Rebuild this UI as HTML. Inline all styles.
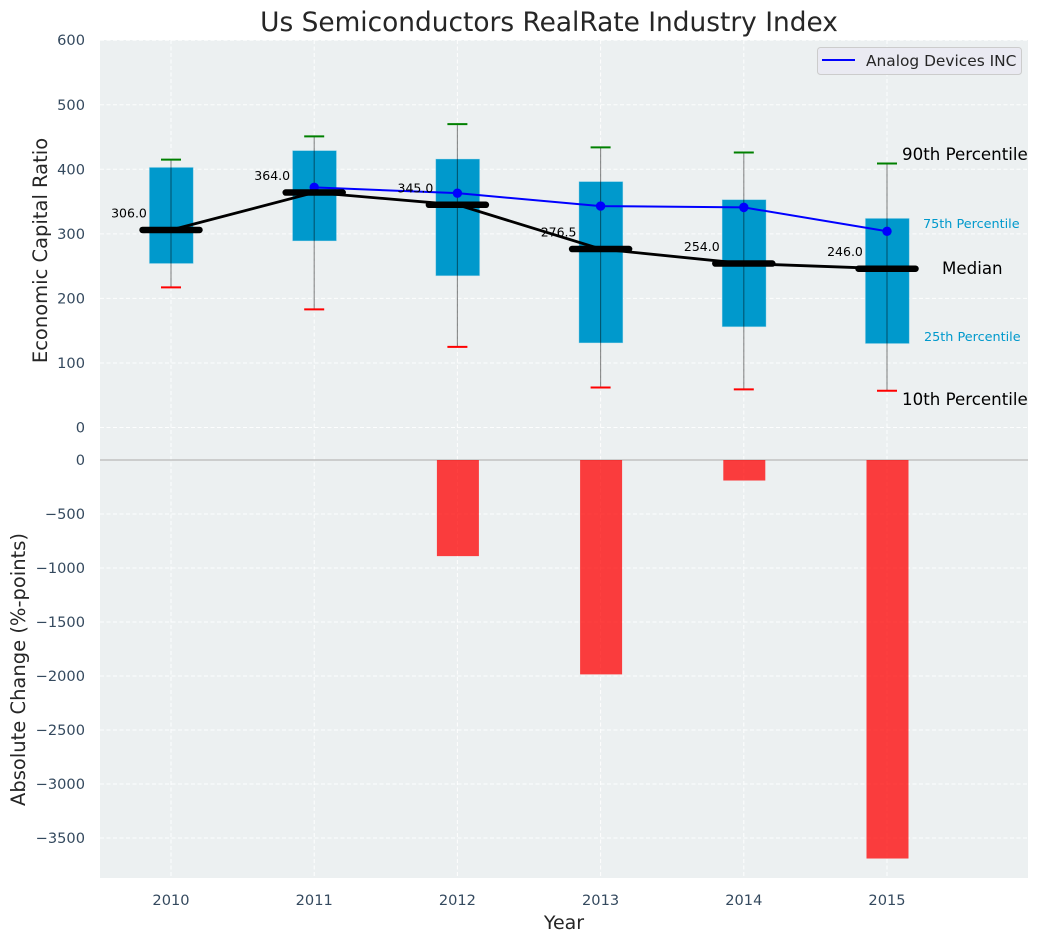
<!DOCTYPE html>
<html>
<head>
<meta charset="utf-8">
<title>Us Semiconductors RealRate Industry Index</title>
<style>
html,body{margin:0;padding:0;background:#fff;}
svg{display:block;font-family:"DejaVu Sans","Liberation Sans",sans-serif;}
</style>
</head>
<body>
<svg id="chart" xmlns="http://www.w3.org/2000/svg" width="1039" height="942" viewBox="0 0 1039 942"></svg>
<script>
const years = [2010, 2011, 2012, 2013, 2014, 2015];
const p90 = [415, 451, 470, 434, 426, 409];
const p75 = [403, 429, 416, 381, 353, 324];
const median = [306, 364, 345, 276.5, 254, 246];
const p25 = [254, 289, 235, 131, 156, 130];
const p10 = [217, 183, 125, 62, 59, 57];
const companyYears = [2011, 2012, 2013, 2014, 2015];
const companyValues = [372, 363, 343, 341, 304];
const changes = [0, 0, -890, -1985, -190, -3690];
const topTicks = [0, 100, 200, 300, 400, 500, 600];
const bottomTicks = [0, -500, -1000, -1500, -2000, -2500, -3000, -3500];
const seriesName = "Analog Devices INC";

const svg = document.getElementById('chart');
const NS = 'http://www.w3.org/2000/svg';
const xS = v => 171 + (v - 2010) * 143.2;
const yTop = v => 427.5 - v * 0.6455;
const yBot = v => 460 - v * 0.108;

function add(tag, attrs, parent) {
  const el = document.createElementNS(NS, tag);
  for (const k in attrs) el.setAttribute(k, attrs[k]);
  (parent || svg).appendChild(el);
  return el;
}
function label(str, attrs) {
  const el = add('text', attrs);
  el.textContent = str;
  return el;
}
const fmt = v => String(v).replace('-', '\u2212');
let el;

el = add('rect', {x: 100, y: 40, width: 928, height: 838, fill: '#ecf0f1'});



const gridStyle = {stroke: '#fff', 'stroke-width': 1, 'stroke-dasharray': '4 2.5', 'stroke-opacity': 0.9};
years.forEach(y => {
  el = add('line', Object.assign({x1: xS(y), x2: xS(y), y1: 40, y2: 878}, gridStyle));
  
  
  el = label(String(y), {x: xS(y), y: 905, 'text-anchor': 'middle', 'font-size': 14.6, fill: '#34495e'});
  
  
});
topTicks.forEach(t => {
  el = add('line', Object.assign({x1: 100, x2: 1028, y1: yTop(t), y2: yTop(t)}, gridStyle));
  
  
  el = label(fmt(t), {x: 85, y: yTop(t) + 5, 'text-anchor': 'end', 'font-size': 14.6, fill: '#34495e'});
  
  
});
bottomTicks.forEach(t => {
  el = add('line', Object.assign({x1: 100, x2: 1028, y1: yBot(t), y2: yBot(t)}, gridStyle));
  
  
  el = label(fmt(t), {x: 85, y: yBot(t) + 5, 'text-anchor': 'end', 'font-size': 14.6, fill: '#34495e'});
  
  
});

el = add('line', {x1: 100, x2: 1028, y1: yBot(0), y2: yBot(0), stroke: '#b8b8b8', 'stroke-width': 1.3});



years.forEach((y, i) => {
  const cx = xS(y);
  el = add('rect', {x: cx - 21.7, y: yTop(p75[i]), width: 44, height: yTop(p25[i]) - yTop(p75[i]), fill: '#0099cc', stroke: '#bfe3ef', 'stroke-opacity': 0.5, 'stroke-width': 0.8});
  
  
  el = add('line', {x1: cx, x2: cx, y1: yTop(p90[i]), y2: yTop(p10[i]), stroke: '#000', 'stroke-opacity': 0.45, 'stroke-width': 1.1});
  
  
  el = add('line', {x1: cx - 10, x2: cx + 10, y1: yTop(p90[i]), y2: yTop(p90[i]), stroke: '#008000', 'stroke-width': 2});
  
  
  el = add('line', {x1: cx - 10, x2: cx + 10, y1: yTop(p10[i]), y2: yTop(p10[i]), stroke: '#ff0000', 'stroke-width': 2});
  
  
  if (changes[i] !== 0) {
    el = add('rect', {x: cx - 20.5, y: yBot(0), width: 42, height: yBot(changes[i]) - yBot(0), fill: '#ff0000', 'fill-opacity': 0.75});
    
    
  }
});

el = add('polyline', {points: companyYears.map((y, i) => xS(y) + ',' + yTop(companyValues[i])).join(' '), fill: 'none', stroke: '#0000ff', 'stroke-width': 2});


companyYears.forEach((y, i) => {
  el = add('circle', {cx: xS(y), cy: yTop(companyValues[i]), r: 4.7, fill: '#0000ff'});
  
  
});

el = add('polyline', {points: years.map((y, i) => xS(y) + ',' + yTop(median[i])).join(' '), fill: 'none', stroke: '#000', 'stroke-width': 2.8});


years.forEach((y, i) => {
  const cx = xS(y);
  el = add('line', {x1: cx - 28.5, x2: cx + 28.5, y1: yTop(median[i]), y2: yTop(median[i]), stroke: '#000', 'stroke-width': 6.5, 'stroke-linecap': 'round'});
  
  
  el = label(median[i].toFixed(1), {x: cx - 42, y: yTop(median[i]) - 12.5, 'text-anchor': 'middle', 'font-size': 12.5, fill: '#000'});
  
  
});

el = label('90th Percentile', {x: 902, y: 160, 'font-size': 16.67, fill: '#000'});


el = label('75th Percentile', {x: 923, y: 228, 'font-size': 12.8, fill: '#0099cc'});


el = label('Median', {x: 942, y: 274, 'font-size': 16.67, fill: '#000'});


el = label('25th Percentile', {x: 924, y: 341, 'font-size': 12.8, fill: '#0099cc'});


el = label('10th Percentile', {x: 902, y: 405, 'font-size': 16.67, fill: '#000'});



el = add('rect', {x: 817.5, y: 47.5, width: 204, height: 27, rx: 3, fill: '#eaeaf2', stroke: '#cccccc', 'stroke-width': 1});


el = add('line', {x1: 822, x2: 855, y1: 60, y2: 60, stroke: '#0000ff', 'stroke-width': 2});


el = label(seriesName, {x: 866, y: 66, 'font-size': 15.4, fill: '#262626'});



el = label('Us Semiconductors RealRate Industry Index', {x: 549, y: 31, 'text-anchor': 'middle', 'font-size': 26.4, fill: '#262626'});


el = label('Economic Capital Ratio', {x: 0, y: 0, transform: 'translate(47,250.5) rotate(-90)', 'text-anchor': 'middle', 'font-size': 19.5, fill: '#262626'});


el = label('Absolute Change (%-points)', {x: 0, y: 0, transform: 'translate(25,669.5) rotate(-90)', 'text-anchor': 'middle', 'font-size': 19.5, fill: '#262626'});


el = label('Year', {x: 564, y: 929, 'text-anchor': 'middle', 'font-size': 19, fill: '#262626'});


</script>
</body>
</html>
